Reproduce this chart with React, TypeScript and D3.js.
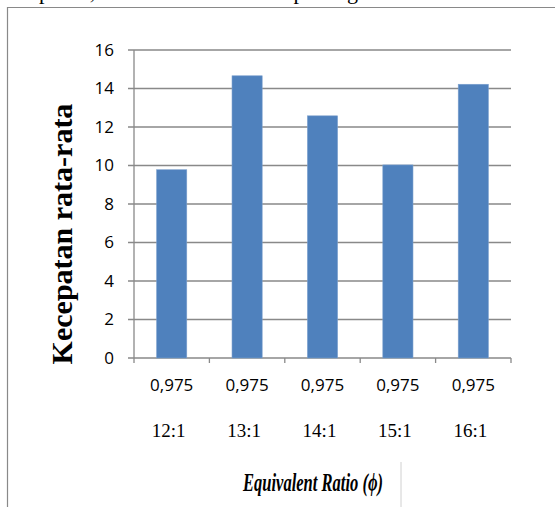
import React from "react";
import * as d3 from "d3";

const phiLabels = ["0,975", "0,975", "0,975", "0,975", "0,975"];
const afrLabels = ["12:1", "13:1", "14:1", "15:1", "16:1"];
const speeds = [9.78, 14.66, 12.58, 10.03, 14.22];
const yTicks = [0, 2, 4, 6, 8, 10, 12, 14, 16];
const categories = ["c1", "c2", "c3", "c4", "c5"];

const W = 555;
const H = 507;
const plot = { left: 134, right: 511, top: 50, bottom: 358 };
const grid = "#898989";

export default function App() {
  const x = d3.scaleBand<string>().domain(categories).range([plot.left, plot.right]).padding(0);
  const y = d3.scaleLinear().domain([0, 16]).range([plot.bottom, plot.top]);
  const bw = x.bandwidth() * 0.4;

  return (
    <svg width={W} height={H} style={{ position: "absolute", left: 0, top: 0, background: "#fff" }}>
      <rect x={0} y={0} width={W} height={H} fill="#fff" />
      {/* partially cut text at top */}
      <text x={-4} y={-1} fontFamily="Liberation Serif" fontSize={22} fill="#000" textLength={570} lengthAdjust="spacing">
        kecepatan, CO dan HC tidak dapat digunakan untuk tersebut
      </text>
      {/* outer frame */}
      <path d={`M7.5,${H} V7.5 H${W + 5}`} fill="none" stroke={grid} strokeWidth={1.2} />

      {/* gridlines */}
      {yTicks.map((t) => (
        <line key={"g" + t} x1={plot.left - 6} x2={plot.right} y1={y(t)} y2={y(t)} stroke={grid} strokeWidth={1.3} />
      ))}
      {/* y axis */}
      <line x1={plot.left} x2={plot.left} y1={plot.top} y2={plot.bottom} stroke={grid} strokeWidth={1.3} />
      {/* x axis ticks */}
      {[...categories.map((c) => x(c) as number), plot.right].map((px, i) => (
        <line key={"xt" + i} x1={px} x2={px} y1={plot.bottom} y2={plot.bottom + 5} stroke={grid} strokeWidth={1.3} />
      ))}

      {/* bars */}
      {categories.map((c, i) => {
        const cx = (x(c) as number) + x.bandwidth() / 2;
        return (
          <rect
            key={"b" + c}
            x={cx - bw / 2}
            y={y(speeds[i])}
            width={bw}
            height={plot.bottom - y(speeds[i])}
            fill="#4F81BD"
            stroke="#7BA0CD"
            strokeWidth={0.6}
          />
        );
      })}

      {/* y tick labels */}
      {yTicks.map((t) => (
        <text key={"yl" + t} x={114} y={y(t)} dy="0.35em" textAnchor="end" fontFamily="Open Sans" fontSize={17} fill="#000">
          {t}
        </text>
      ))}

      {/* x labels */}
      {categories.map((c, i) => {
        const cx = (x(c) as number) + x.bandwidth() / 2;
        return (
          <g key={"xl" + c}>
            <text x={cx} y={391} textAnchor="middle" fontFamily="Open Sans" fontSize={17} fill="#000">
              {phiLabels[i]}
            </text>
            <text x={cx - 3} y={437} textAnchor="middle" fontFamily="Liberation Serif" fontSize={19} fill="#000">
              {afrLabels[i]}
            </text>
          </g>
        );
      })}

      {/* y axis title */}
      <text
        transform={`translate(72,234) rotate(-90)`}
        textAnchor="middle"
        fontFamily="Liberation Serif"
        fontWeight="bold"
        fontSize={30}
        fill="#000"
      >
        Kecepatan rata-rata
      </text>

      {/* x axis title */}
      <text
        x={243}
        y={491}
        textLength={140}
        lengthAdjust="spacingAndGlyphs"
        fontFamily="Liberation Serif"
        fontStyle="italic"
        fontWeight="bold"
        fontSize={25}
        fill="#000"
      >
        Equivalent Ratio (ϕ)
      </text>
      <line x1={401} x2={401} y1={462} y2={H} stroke="#d0d0d0" strokeWidth={1} />
    </svg>
  );
}
